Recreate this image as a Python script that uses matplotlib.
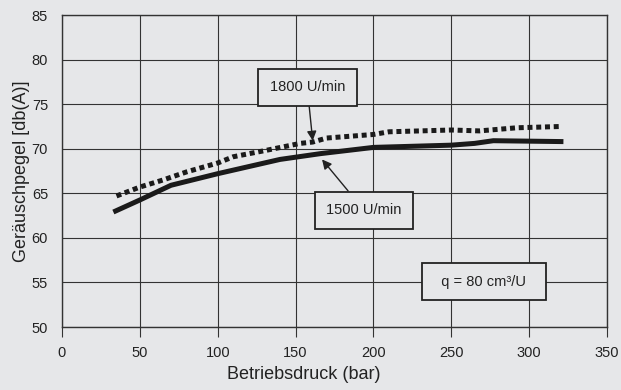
import matplotlib.pyplot as plt

plt.rcParams['font.family'] = ['Liberation Sans', 'DejaVu Sans']

# 1500 U/min (solid)
p_1500 = [33, 50, 70, 100, 140, 166, 200, 250, 265, 277, 322]
db_1500 = [62.9, 64.25, 65.9, 67.2, 68.8, 69.45, 70.15, 70.4, 70.6, 70.9, 70.8]

# 1800 U/min (dotted)
p_1800 = [35, 50, 65, 80, 100, 110, 132, 153, 161, 170, 200, 210, 250, 268, 292, 321]
db_1800 = [64.7, 65.7, 66.5, 67.4, 68.4, 69.1, 69.85, 70.6, 70.75, 71.2, 71.6, 71.9, 72.1, 72.0, 72.35, 72.5]

bg = '#e6e7e9'
ink = '#222222'

fig = plt.figure(figsize=(6.21, 3.9), dpi=100, facecolor=bg)
ax = fig.add_axes([0.0998, 0.1615, 0.8777, 0.8])
ax.set_facecolor(bg)

ax.plot(p_1500, db_1500, color='#1a1a1a', lw=3.6, solid_capstyle='butt')
ax.plot(p_1800, db_1800, color='#1a1a1a', lw=3.6, linestyle=(0, (1.0, 0.75)), dash_capstyle='butt')

ax.set_xlim(0, 350)
ax.set_ylim(50, 85)
ax.set_xticks(range(0, 351, 50))
ax.set_yticks(range(50, 86, 5))
ax.grid(True, color='#333333', lw=0.8)
ax.set_axisbelow(True)
for s in ax.spines.values():
    s.set_color('#333333')
    s.set_linewidth(1.0)
ax.tick_params(axis='x', direction='out', length=7, width=0.8, color='#333333',
               labelsize=10.5, labelcolor=ink, pad=7)
ax.tick_params(axis='y', length=0, labelsize=10.5, labelcolor=ink, pad=10)

ax.set_xlabel('Betriebsdruck (bar)', fontsize=13, color=ink)
ax.xaxis.set_label_coords(0.444, -0.125)
ax.set_ylabel('Geräuschpegel [db(A)]', fontsize=13, color=ink, labelpad=1)

box = dict(boxstyle='square,pad=0.8', fc=bg, ec='#222222', lw=1.3)
arrow = dict(arrowstyle='-|>', color='#222222', lw=1.0, mutation_scale=14, shrinkA=0, shrinkB=0)

ax.annotate('1800 U/min', xy=(161, 70.9), xytext=(157.5, 76.9), fontsize=10.5, color=ink,
            ha='center', va='center', bbox=box, arrowprops=arrow)
ax.annotate('1500 U/min', xy=(167, 68.8), xytext=(194, 63.1), fontsize=10.5, color=ink,
            ha='center', va='center', bbox=box, arrowprops=arrow)
ax.text(271, 55.1, '  q = 80 cm³/U  ', fontsize=10.5, color=ink, ha='center', va='center',
        bbox=box)

fig.savefig('out.png', dpi=100, facecolor=bg)
